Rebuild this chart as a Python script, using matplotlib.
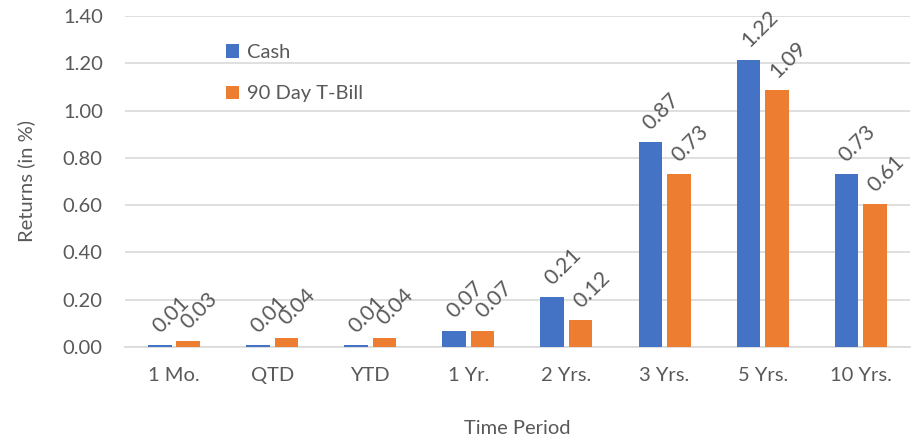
import numpy as np
import matplotlib
matplotlib.use("Agg")
import matplotlib.pyplot as plt

plt.rcParams['font.family'] = ['Lato', 'DejaVu Sans']

categories = ["1 Mo.", "QTD", "YTD", "1 Yr.", "2 Yrs.", "3 Yrs.", "5 Yrs.", "10 Yrs."]
cash_labels = ["0.01", "0.01", "0.01", "0.07", "0.21", "0.87", "1.22", "0.73"]
tbill_labels = ["0.03", "0.04", "0.04", "0.07", "0.12", "0.73", "1.09", "0.61"]
# bar heights as drawn in the picture
cash_h = [0.008, 0.008, 0.008, 0.07, 0.21, 0.865, 1.215, 0.73]
tbill_h = [0.025, 0.04, 0.04, 0.07, 0.115, 0.73, 1.085, 0.605]

text_color = "#595959"
blue = "#4472C4"
orange = "#ED7D31"
fs = 14.5

fig = plt.figure(figsize=(9.19, 4.41), dpi=100)
ax = fig.add_axes([0.136, 0.213, 0.854, 0.751])

x = np.arange(len(categories))
w = 0.24
off = 0.145
b1 = ax.bar(x - off, cash_h, w, color=blue, label="Cash", zorder=3)
b2 = ax.bar(x + off, tbill_h, w, color=orange, label="90 Day T-Bill", zorder=3)

for bars, labels in [(b1, cash_labels), (b2, tbill_labels)]:
    for rect, lab in zip(bars, labels):
        ax.annotate(lab, (rect.get_x() + rect.get_width() / 2, rect.get_height()),
                    xytext=(8, 22), textcoords="offset points",
                    rotation=45, rotation_mode="anchor", ha="center", va="center",
                    fontsize=15.5, color=text_color)

ax.set_xlim(-0.5, len(categories) - 0.5)
ax.set_ylim(0, 1.4)
ax.set_yticks(np.arange(0, 1.41, 0.2))
ax.set_yticklabels(["%.2f" % v for v in np.arange(0, 1.41, 0.2)])
ax.set_xticks(x)
ax.set_xticklabels(categories)
ax.tick_params(axis="both", length=0, labelsize=fs, colors=text_color)
ax.tick_params(axis="y", pad=16)
ax.tick_params(axis="x", pad=14)
ax.grid(axis="y", color="#d9d9d9", linewidth=1.2, zorder=0)
for s in ["top", "right", "left"]:
    ax.spines[s].set_visible(False)
ax.spines["bottom"].set_color("#d9d9d9")
ax.spines["bottom"].set_linewidth(1.2)

ax.set_ylabel("Returns (in %)", fontsize=fs, color=text_color, labelpad=20)
ax.set_xlabel("Time Period", fontsize=fs, color=text_color, labelpad=26)

leg = ax.legend(loc="upper left", bbox_to_anchor=(0.116, 0.945), frameon=False,
                handlelength=0.65, handleheight=0.65, handletextpad=0.4,
                labelspacing=1.2, borderpad=0, fontsize=fs)
for t in leg.get_texts():
    t.set_color(text_color)

fig.savefig("out.png", dpi=100)
